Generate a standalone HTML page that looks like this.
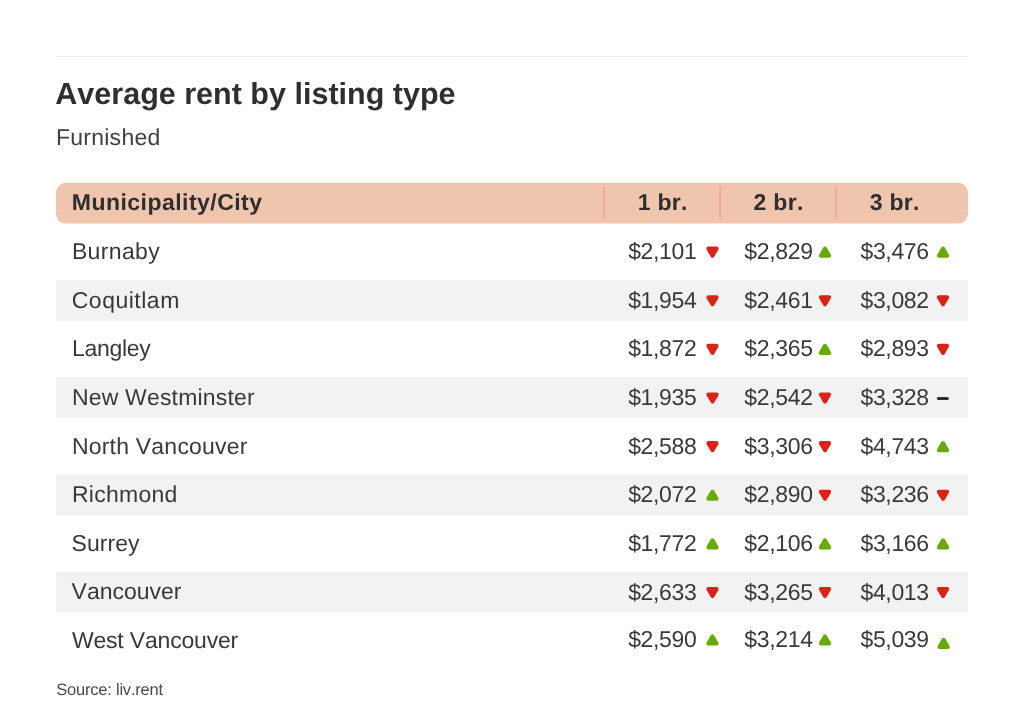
<!DOCTYPE html>
<html><head><meta charset="utf-8"><title>Average rent by listing type</title>
<style>
html,body{margin:0;padding:0;background:#fff;}
body{width:1024px;height:722px;position:relative;overflow:hidden;font-family:"Liberation Sans",sans-serif;color:#333;text-rendering:geometricPrecision;font-kerning:none;}
#shapes{position:absolute;left:0;top:0;display:block;}
#txt{position:absolute;left:0;top:0;width:1024px;height:722px;will-change:transform;}
.t{position:absolute;white-space:nowrap;line-height:1;}
.title{font-size:30.5px;font-weight:bold;color:#2f2f2f;}
.sub{font-size:23px;color:#404040;}
.th{font-size:23px;font-weight:bold;color:#2e2e2e;}
.td{font-size:23px;color:#393939;}
.src{font-size:16.5px;color:#4a4a4a;}
</style></head><body>
<svg id="shapes" width="1024" height="722" viewBox="0 0 1024 722">
<rect x="56" y="55.9" width="912" height="1" fill="#ececec"/>
<rect x="56" y="182.75" width="912" height="40.85" rx="10" ry="10" fill="#f0c5ad"/>
<line x1="604.1" y1="187.5" x2="604.1" y2="218.4" stroke="#e3a58f" stroke-width="1.3" stroke-linecap="round"/>
<line x1="720.1" y1="187.5" x2="720.1" y2="218.4" stroke="#e3a58f" stroke-width="1.3" stroke-linecap="round"/>
<line x1="836.2" y1="187.5" x2="836.2" y2="218.4" stroke="#e3a58f" stroke-width="1.3" stroke-linecap="round"/>
<rect x="56" y="280.00" width="912" height="40.7" fill="#f2f2f2"/>
<rect x="56" y="377.26" width="912" height="40.7" fill="#f2f2f2"/>
<rect x="56" y="474.52" width="912" height="40.7" fill="#f2f2f2"/>
<rect x="56" y="571.78" width="912" height="40.7" fill="#f2f2f2"/>
<g stroke-width="4" stroke-linejoin="round">
<g fill="#68ab00" stroke="#68ab00"><path d="M825.00 248.60l4.15 7.1h-8.3z"/><path d="M943.00 248.60l4.15 7.1h-8.3z"/><path d="M825.00 345.86l4.15 7.1h-8.3z"/><path d="M943.00 443.12l4.15 7.1h-8.3z"/><path d="M712.50 491.75l4.15 7.1h-8.3z"/><path d="M712.50 540.38l4.15 7.1h-8.3z"/><path d="M825.00 540.38l4.15 7.1h-8.3z"/><path d="M943.00 540.38l4.15 7.1h-8.3z"/><path d="M712.50 636.42l4.15 7.1h-8.3z"/><path d="M825.00 636.42l4.15 7.1h-8.3z"/><path d="M943.65 639.85l4.15 7.1h-8.3z"/></g>
<g fill="#dc2218" stroke="#dc2218"><path d="M712.50 255.70l4.15 -7.1h-8.3z"/><path d="M712.50 304.33l4.15 -7.1h-8.3z"/><path d="M825.00 304.33l4.15 -7.1h-8.3z"/><path d="M943.00 304.33l4.15 -7.1h-8.3z"/><path d="M712.50 352.96l4.15 -7.1h-8.3z"/><path d="M943.00 352.96l4.15 -7.1h-8.3z"/><path d="M712.50 401.59l4.15 -7.1h-8.3z"/><path d="M825.00 401.59l4.15 -7.1h-8.3z"/><path d="M712.50 450.22l4.15 -7.1h-8.3z"/><path d="M825.00 450.22l4.15 -7.1h-8.3z"/><path d="M825.00 498.85l4.15 -7.1h-8.3z"/><path d="M943.00 498.85l4.15 -7.1h-8.3z"/><path d="M712.50 596.11l4.15 -7.1h-8.3z"/><path d="M825.00 596.11l4.15 -7.1h-8.3z"/><path d="M943.00 596.11l4.15 -7.1h-8.3z"/></g>
</g>
<line x1="938.35" y1="398.45" x2="947.35" y2="398.45" stroke="#2e2e2e" stroke-width="3.1" stroke-linecap="round"/>
</svg>
<div id="txt">
<div class="t title" style="left:55.34px;top:79px;letter-spacing:0.007px">Average rent by listing type</div>
<div class="t sub" style="left:55.91px;top:126px;letter-spacing:0.262px">Furnished</div>
<div class="t th" style="left:71.86px;top:191px;letter-spacing:0.464px">Municipality/City</div>
<div class="t th" style="left:637.75px;top:191px;letter-spacing:0.240px">1 br.</div>
<div class="t th" style="left:753.50px;top:191px;letter-spacing:0.302px">2 br.</div>
<div class="t th" style="left:869.87px;top:191px;letter-spacing:0.235px">3 br.</div>
<div class="t td" style="left:71.91px;top:240px;letter-spacing:0.361px">Burnaby</div>
<div class="t td" style="left:628.15px;top:240px;letter-spacing:-0.340px">$2,101</div>
<div class="t td" style="left:744.35px;top:240px;letter-spacing:-0.340px">$2,829</div>
<div class="t td" style="left:860.45px;top:240px;letter-spacing:-0.340px">$3,476</div>
<div class="t td" style="left:71.73px;top:289px;letter-spacing:0.505px">Coquitlam</div>
<div class="t td" style="left:628.15px;top:289px;letter-spacing:-0.340px">$1,954</div>
<div class="t td" style="left:744.35px;top:289px;letter-spacing:-0.340px">$2,461</div>
<div class="t td" style="left:860.45px;top:289px;letter-spacing:-0.340px">$3,082</div>
<div class="t td" style="left:71.91px;top:337px;letter-spacing:-0.289px">Langley</div>
<div class="t td" style="left:628.15px;top:337px;letter-spacing:-0.340px">$1,872</div>
<div class="t td" style="left:744.35px;top:337px;letter-spacing:-0.340px">$2,365</div>
<div class="t td" style="left:860.45px;top:337px;letter-spacing:-0.340px">$2,893</div>
<div class="t td" style="left:71.91px;top:386px;letter-spacing:0.184px">New Westminster</div>
<div class="t td" style="left:628.15px;top:386px;letter-spacing:-0.340px">$1,935</div>
<div class="t td" style="left:744.35px;top:386px;letter-spacing:-0.340px">$2,542</div>
<div class="t td" style="left:860.45px;top:386px;letter-spacing:-0.340px">$3,328</div>
<div class="t td" style="left:71.91px;top:435px;letter-spacing:0.213px">North Vancouver</div>
<div class="t td" style="left:628.15px;top:435px;letter-spacing:-0.340px">$2,588</div>
<div class="t td" style="left:744.35px;top:435px;letter-spacing:-0.340px">$3,306</div>
<div class="t td" style="left:860.45px;top:435px;letter-spacing:-0.340px">$4,743</div>
<div class="t td" style="left:71.91px;top:483px;letter-spacing:0.261px">Richmond</div>
<div class="t td" style="left:628.15px;top:483px;letter-spacing:-0.340px">$2,072</div>
<div class="t td" style="left:744.35px;top:483px;letter-spacing:-0.340px">$2,890</div>
<div class="t td" style="left:860.45px;top:483px;letter-spacing:-0.340px">$3,236</div>
<div class="t td" style="left:71.56px;top:532px;letter-spacing:0.049px">Surrey</div>
<div class="t td" style="left:628.15px;top:532px;letter-spacing:-0.340px">$1,772</div>
<div class="t td" style="left:744.35px;top:532px;letter-spacing:-0.340px">$2,106</div>
<div class="t td" style="left:860.45px;top:532px;letter-spacing:-0.340px">$3,166</div>
<div class="t td" style="left:71.60px;top:580px;letter-spacing:-0.009px">Vancouver</div>
<div class="t td" style="left:628.15px;top:581px;letter-spacing:-0.340px">$2,633</div>
<div class="t td" style="left:744.35px;top:581px;letter-spacing:-0.340px">$3,265</div>
<div class="t td" style="left:860.45px;top:581px;letter-spacing:-0.340px">$4,013</div>
<div class="t td" style="left:71.90px;top:629px;letter-spacing:-0.181px">West Vancouver</div>
<div class="t td" style="left:628.15px;top:628px;letter-spacing:-0.340px">$2,590</div>
<div class="t td" style="left:744.35px;top:628px;letter-spacing:-0.340px">$3,214</div>
<div class="t td" style="left:860.45px;top:628px;letter-spacing:-0.340px">$5,039</div>
<div class="t src" style="left:56.15px;top:682px;letter-spacing:-0.205px">Source: liv.rent</div>
</div>
</body></html>
